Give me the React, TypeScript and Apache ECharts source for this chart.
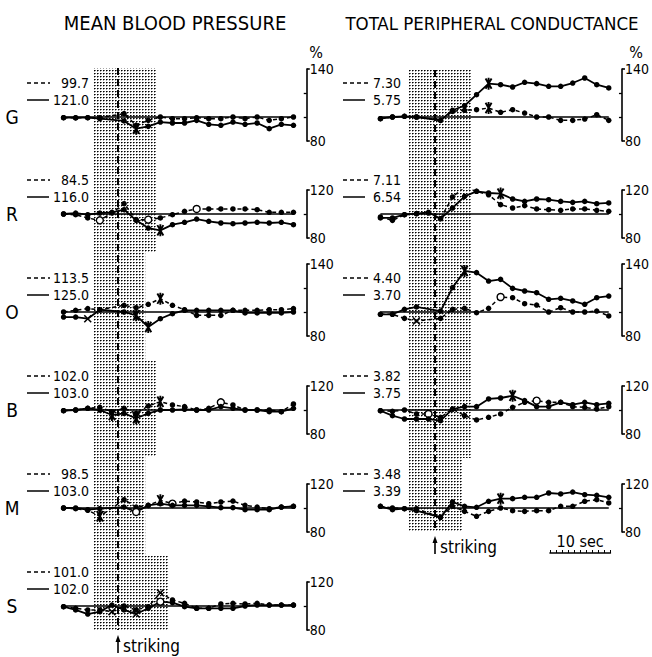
import React, { useEffect, useRef } from 'react';
import * as echarts from 'echarts';

// ---------- time grids (seconds, striking = 0) ----------
const TIMES_A = [-9, -7, -5, -3, 1, 3, 5, 7, 9, 11, 13, 15, 17, 19, 21, 23, 25, 27, 29];
const TIMES_B = [-9, -7, -5, -3, -1, 1, 3, 5, 7, 9, 11, 13, 15, 17, 19, 21, 23, 25, 27, 29];
const BASE_RANGE = [-9, 29];

// ---------- MEAN BLOOD PRESSURE (% of control) ----------
const mbpG_dash = [99.4, 99.2, 99.4, 99.4, 102.8, 93.1, 97.2, 100, 98.6, 98.6, 99.4, 98.6, 98.6, 100, 98.6, 100, 97.2, 98.6, 100];
const mbpG_solid = [99.4, 99.4, 99.4, 98.6, 96.7, 90.3, 92.2, 95.8, 95.0, 95.0, 97.2, 93.9, 93.1, 95.8, 93.9, 95.0, 90.3, 93.9, 93.1];
const mbpG_dashMarks: [number, string][] = [];
const mbpG_solidMarks: [number, string][] = [[3, '*']];

const mbpR_dash = [100, 99.4, 96.7, 94.7, 100.8, 108.6, 95.3, 95.3, 96.7, 99.4, 102.2, 104.2, 104.2, 104.2, 104.2, 104.2, 103.6, 101.4, 101.4, 101.4];
const mbpR_solid = [100, 100.8, 99.4, 100.8, 101.4, 103.6, 94.7, 88.3, 86.4, 91.1, 93.1, 95.8, 93.9, 92.5, 91.9, 92.5, 93.1, 92.5, 93.1, 91.1];
const mbpR_dashMarks: [number, string][] = [[-3, 'o'], [5, 'o'], [13, 'o']];
const mbpR_solidMarks: [number, string][] = [[7, '*']];

const mbpO_dash = [100, 101.4, 102.8, 101.9, 105.6, 103.6, 106.4, 111.1, 105.6, 101.9, 97.2, 97.2, 97.2, 101.4, 101.4, 101.4, 101.9, 101.9, 102.8];
const mbpO_solid = [95.8, 95.8, 94.4, 101.9, 100, 97.2, 87.5, 94.4, 98.6, 101.4, 101.4, 101.4, 101.4, 101.4, 99.2, 99.2, 99.2, 99.2, 100];
const mbpO_dashMarks: [number, string][] = [[7, '*']];
const mbpO_solidMarks: [number, string][] = [[-5, 'x'], [3, '*'], [5, '*']];

const mbpB_dash = [99.4, 100, 101.4, 102.2, 98.6, 101.4, 97.2, 103.3, 106.9, 104.2, 102.8, 100, 101.4, 106.4, 104.2, 100, 100, 100, 98.6, 105];
const mbpB_solid = [99.4, 100, 101.4, 100, 95.8, 97.2, 93.1, 97.2, 100, 100, 100.6, 100, 100, 102.8, 101.4, 100, 100, 98.6, 98.6, 101.4];
const mbpB_dashMarks: [number, string][] = [[7, '*'], [17, 'o']];
const mbpB_solidMarks: [number, string][] = [[-1, '*'], [3, '*']];

const mbpM_dash = [100, 99.4, 98.1, 93.1, 106.9, 100.8, 102.2, 106.4, 103.6, 105.8, 105, 103.6, 105, 105.8, 102.2, 100.8, 99.4, 100.8, 101.4];
const mbpM_solid = [100, 100, 98.6, 99.4, 100.8, 96.7, 102.2, 103.6, 102.2, 102.2, 102.2, 101.4, 100.3, 100.3, 98.6, 98.6, 98.6, 100.8, 101.4];
const mbpM_dashMarks: [number, string][] = [[-3, '*'], [7, '*'], [9, 'o']];
const mbpM_solidMarks: [number, string][] = [[3, 'o']];

const mbpS_dash = [99.4, 98.1, 96.7, 96.7, 95.3, 100, 96.7, 99.4, 111, 105, 102.2, 98.1, 98.1, 101.7, 102.2, 101.7, 102.2, 100.8, 100.8, 100.8];
const mbpS_solid = [99.4, 96.7, 93.3, 95.3, 100.8, 96.7, 93.3, 98.1, 103.6, 102.8, 99.4, 98.1, 98.1, 98.1, 98.1, 100, 100.8, 100.8, 100.8, 100.8];
const mbpS_dashMarks: [number, string][] = [[-1, 'x'], [7, 'x']];
const mbpS_solidMarks: [number, string][] = [[3, 'x'], [7, 'o']];

const mbpLetters = ['G', 'R', 'O', 'B', 'M', 'S'];
const mbpDashRef = ['99.7', '84.5', '113.5', '102.0', '98.5', '101.0'];
const mbpSolidRef = ['121.0', '116.0', '125.0', '103.0', '103.0', '102.0'];
const mbpTop = [140, 120, 140, 120, 120, 120];

// ---------- TOTAL PERIPHERAL CONDUCTANCE (% of control) ----------
const tpcG_dash = [98.6, 100, 100.6, 100, 97.2, 104.7, 105.6, 106.1, 107.5, 103.9, 106.1, 103.3, 100, 100, 97.2, 97.2, 98.3, 101.9, 97.2];
const tpcG_solid = [98.6, 100, 100.6, 100, 97.2, 105.6, 109.4, 118.6, 127.8, 126.9, 125, 128.9, 127.8, 125.6, 125.6, 128.3, 132.5, 126.9, 124.2];
const tpcG_dashMarks: [number, string][] = [[9, '*']];
const tpcG_solidMarks: [number, string][] = [[9, '*']];

const tpcR_dash = [97.5, 94.7, 99.4, 100.3, 100.8, 96.1, 114.2, 122.5, 118.9, 116, 107.8, 105, 107, 104.2, 103.6, 103.1, 104.2, 104.2, 103.1, 102.2];
const tpcR_solid = [96.7, 96.7, 99.4, 100.3, 101.4, 96.1, 105, 114.7, 118.9, 117.5, 117, 112.5, 110.5, 112.5, 111.9, 110.5, 109.7, 110.5, 108.6, 109.2];
const tpcR_dashMarks: [number, string][] = [[5, '*']];
const tpcR_solidMarks: [number, string][] = [[11, '*']];

const tpcO_dash = [98.1, 98.1, 94.7, 92.5, 94.7, 102.2, 103.1, 99.4, 103.1, 112.5, 111.9, 106.9, 105.8, 100, 103.6, 100, 100, 100.8, 96.7];
const tpcO_solid = [98.1, 98.1, 102.2, 104.2, 100.8, 120.3, 134.2, 132.8, 125.8, 127.2, 119.7, 117.5, 116.1, 110.6, 111.4, 109.2, 106.4, 111.9, 113.3];
const tpcO_dashMarks: [number, string][] = [[-3, 'x'], [11, 'o']];
const tpcO_solidMarks: [number, string][] = [[5, '*']];

const tpcB_dash = [99.4, 98.9, 100, 96.7, 96.7, 93.9, 100.8, 95.3, 91.7, 93.9, 96.7, 102.2, 106.4, 107.8, 106.4, 106.4, 102.8, 102.2, 100.8, 102.8];
const tpcB_solid = [99.4, 95.3, 92.5, 92.5, 92.5, 91.1, 100.8, 102.8, 102.8, 109.2, 110, 111.9, 107.8, 102.8, 102.8, 106.4, 104.4, 106.4, 104.4, 105.6];
const tpcB_dashMarks: [number, string][] = [[-1, 'o'], [17, 'o']];
const tpcB_solidMarks: [number, string][] = [[13, '*']];

const tpcM_dash = [101.4, 100, 99.4, 99.4, 92.2, 101.4, 97.2, 93.1, 97.2, 100, 97.8, 97.2, 97.8, 97.8, 101.4, 101.4, 105.6, 106.9, 104.2];
const tpcM_solid = [101.4, 98.6, 99.4, 97.8, 92.2, 105, 101.4, 100.6, 105.6, 107.8, 107.8, 108.9, 108.9, 112.5, 111.7, 113.3, 111.1, 110.6, 108.9];
const tpcM_dashMarks: [number, string][] = [];
const tpcM_solidMarks: [number, string][] = [[11, '*']];

const tpcDashRef = ['7.30', '7.11', '4.40', '3.82', '3.48'];
const tpcSolidRef = ['5.75', '6.54', '3.70', '3.75', '3.39'];
const tpcTop = [140, 120, 140, 120, 120];

// stippled period (seconds) and vertical extent (page px) for each column
const mbpStipple = [
  [-4.1, 6.3, 68, 252],
  [-4.1, 4.5, 252, 360],
  [-4.1, 6.3, 360, 457],
  [-4.1, 4.5, 457, 555],
  [-4.1, 8.3, 555, 630],
];
const tpcStipple = [
  [-4.3, 6.1, 70, 458],
  [-4.3, 4.5, 458, 532],
];
const SCALE_BAR_SEC = [19, 29];

// ---------- layout ----------
const FONT = "'DejaVu Sans Condensed', 'Liberation Sans Narrow', 'DejaVu Sans', sans-serif";
const PX_PER_S = 6.05;
const X_MIN = -12;
const X_MAX = 31.2;
const COL_LEFT = [45.4, 362.4];
const BASELINES = [117, 214, 312, 410, 508, 606];
const PX_PER_UNIT = 1.2;
const GRID_W = (X_MAX - X_MIN) * PX_PER_S;

const STAR = 'path://M-0.8,-5L-0.8,5L0.8,5L0.8,-5Z M1.807,4.73L3.193,3.93L-1.807,-4.73L-3.193,-3.93Z M3.193,-3.93L1.807,-4.73L-3.193,3.93L-1.807,4.73Z';
const CROSS = 'path://M2.95,4.05L4.05,2.95L-2.95,-4.05L-4.05,-2.95Z M4.05,-2.95L2.95,-4.05L-4.05,2.95L-2.95,4.05Z';

function buildItems(times: number[], vals: number[], marks: [number, string][]) {
  return times.map((t, i) => {
    const m = marks.find((mm) => mm[0] === t);
    const item: any = { value: [t, vals[i]] };
    if (m) {
      if (m[1] === '*') {
        item.symbol = STAR;
        item.symbolSize = 12;
      } else if (m[1] === 'o') {
        item.symbol = 'circle';
        item.symbolSize = 7;
        item.itemStyle = { color: '#fff', borderColor: '#000', borderWidth: 1.4 };
      } else if (m[1] === 'x') {
        item.symbol = CROSS;
        item.symbolSize = 8;
      }
    }
    return item;
  });
}

const mbpPanels = [
  { times: TIMES_A, dash: mbpG_dash, solid: mbpG_solid, dm: mbpG_dashMarks, sm: mbpG_solidMarks },
  { times: TIMES_B, dash: mbpR_dash, solid: mbpR_solid, dm: mbpR_dashMarks, sm: mbpR_solidMarks },
  { times: TIMES_A, dash: mbpO_dash, solid: mbpO_solid, dm: mbpO_dashMarks, sm: mbpO_solidMarks },
  { times: TIMES_B, dash: mbpB_dash, solid: mbpB_solid, dm: mbpB_dashMarks, sm: mbpB_solidMarks },
  { times: TIMES_A, dash: mbpM_dash, solid: mbpM_solid, dm: mbpM_dashMarks, sm: mbpM_solidMarks },
  { times: TIMES_B, dash: mbpS_dash, solid: mbpS_solid, dm: mbpS_dashMarks, sm: mbpS_solidMarks },
];
const tpcPanels = [
  { times: TIMES_A, dash: tpcG_dash, solid: tpcG_solid, dm: tpcG_dashMarks, sm: tpcG_solidMarks },
  { times: TIMES_B, dash: tpcR_dash, solid: tpcR_solid, dm: tpcR_dashMarks, sm: tpcR_solidMarks },
  { times: TIMES_A, dash: tpcO_dash, solid: tpcO_solid, dm: tpcO_dashMarks, sm: tpcO_solidMarks },
  { times: TIMES_B, dash: tpcB_dash, solid: tpcB_solid, dm: tpcB_dashMarks, sm: tpcB_solidMarks },
  { times: TIMES_A, dash: tpcM_dash, solid: tpcM_solid, dm: tpcM_dashMarks, sm: tpcM_solidMarks },
];

function buildOption(pattern: any) {
  const grid: any[] = [];
  const xAxis: any[] = [];
  const yAxis: any[] = [];
  const series: any[] = [];
  const graphic: any[] = [];

  const txt = (text: string, x: number, y: number, size: number, align = 'left', extra: any = {}) => ({
    type: 'text',
    x,
    y,
    silent: true,
    style: { text, fill: '#000', fontSize: size, fontFamily: FONT, align, verticalAlign: 'middle', ...extra },
  });

  const addPanel = (col: number, row: number, panel: any, topVal: number) => {
    const k = grid.length;
    const base = BASELINES[row];
    grid.push({
      left: COL_LEFT[col],
      top: base - (topVal - 100) * PX_PER_UNIT,
      width: GRID_W,
      height: (topVal - 80) * PX_PER_UNIT,
    });
    xAxis.push({ gridIndex: k, type: 'value', min: X_MIN, max: X_MAX, show: false, axisLine: { onZero: false } });
    const yMain = yAxis.length;
    yAxis.push({
      gridIndex: k,
      type: 'value',
      position: 'right',
      min: 80,
      max: topVal,
      axisLine: { show: true, onZero: false, lineStyle: { color: '#000', width: 1.6 } },
      axisTick: { show: true, inside: false, length: 3, customValues: [80, topVal], lineStyle: { color: '#000', width: 1.6 } },
      axisLabel: { show: true, customValues: [80, topVal], color: '#000', fontSize: 14, fontFamily: FONT, margin: 3 },
      splitLine: { show: false },
    });
    yAxis.push({
      gridIndex: k,
      type: 'value',
      position: 'right',
      min: 80,
      max: topVal,
      axisLine: { show: false, onZero: false },
      axisTick: { show: true, inside: true, length: 3, customValues: topVal === 140 ? [100, 120] : [100], lineStyle: { color: '#000', width: 1.3 } },
      axisLabel: { show: false },
      splitLine: { show: false },
    });
    series.push({
      type: 'line',
      xAxisIndex: k,
      yAxisIndex: yMain,
      data: [[BASE_RANGE[0], 100], [BASE_RANGE[1], 100]],
      symbol: 'none',
      silent: true,
      lineStyle: { color: '#000', width: 1.3 },
      z: 1,
    });
    series.push({
      type: 'line',
      xAxisIndex: k,
      yAxisIndex: yMain,
      data: buildItems(panel.times, panel.dash, panel.dm),
      symbol: 'circle',
      symbolSize: 5.5,
      symbolKeepAspect: true,
      showAllSymbol: true,
      itemStyle: { color: '#000' },
      lineStyle: { color: '#000', width: 1.5, type: [4, 3] },
      z: 3,
    });
    series.push({
      type: 'line',
      xAxisIndex: k,
      yAxisIndex: yMain,
      data: buildItems(panel.times, panel.solid, panel.sm),
      symbol: 'circle',
      symbolSize: 5.5,
      symbolKeepAspect: true,
      showAllSymbol: true,
      itemStyle: { color: '#000' },
      lineStyle: { color: '#000', width: 1.8 },
      z: 4,
    });
  };

  mbpPanels.forEach((p, i) => addPanel(0, i, p, mbpTop[i]));
  tpcPanels.forEach((p, i) => addPanel(1, i, p, tpcTop[i]));

  // background grids with stipple + striking line
  const addBackground = (col: number, stip: number[][]) => {
    const k = grid.length;
    const yTop = Math.min(...stip.map((s) => s[2]));
    const yBot = Math.max(...stip.map((s) => s[3]));
    grid.push({ left: COL_LEFT[col], top: yTop, width: GRID_W, height: yBot - yTop });
    xAxis.push({ gridIndex: k, type: 'value', min: X_MIN, max: X_MAX, show: false, axisLine: { onZero: false } });
    const yi = yAxis.length;
    yAxis.push({ gridIndex: k, type: 'value', min: yTop, max: yBot, inverse: true, show: false, axisLine: { onZero: false } });
    series.push({
      type: 'line',
      xAxisIndex: k,
      yAxisIndex: yi,
      data: [[0, yTop]],
      symbol: 'none',
      silent: true,
      lineStyle: { opacity: 0 },
      z: 0,
      markArea: {
        silent: true,
        itemStyle: { color: pattern },
        data: stip.map((s) => [{ coord: [s[0], s[2]] }, { coord: [s[1], s[3]] }]),
      },
      markLine: {
        silent: true,
        symbol: ['none', 'none'],
        label: { show: false },
        lineStyle: { color: '#000', width: 2, type: [7, 4] },
        data: [{ xAxis: 0 }],
      },
    });
  };
  addBackground(0, mbpStipple);
  addBackground(1, tpcStipple);

  // 10 sec scale bar
  {
    const k = grid.length;
    grid.push({
      left: COL_LEFT[1] + (SCALE_BAR_SEC[0] - X_MIN) * PX_PER_S,
      top: 552,
      width: (SCALE_BAR_SEC[1] - SCALE_BAR_SEC[0]) * PX_PER_S,
      height: 1,
    });
    xAxis.push({
      gridIndex: k,
      type: 'value',
      min: 0,
      max: SCALE_BAR_SEC[1] - SCALE_BAR_SEC[0],
      interval: 1,
      position: 'bottom',
      axisLine: { show: true, onZero: false, lineStyle: { color: '#000', width: 1.5 } },
      axisTick: { show: true, inside: true, length: 3, lineStyle: { color: '#000', width: 1 } },
      axisLabel: { show: false },
      splitLine: { show: false },
    });
    yAxis.push({ gridIndex: k, type: 'value', show: false, axisLine: { onZero: false } });
  }

  // titles
  graphic.push(txt('MEAN BLOOD PRESSURE', 175, 23, 20, 'center'));
  graphic.push(txt('TOTAL PERIPHERAL CONDUCTANCE', 492, 23, 18.5, 'center'));
  graphic.push(txt('%', 316, 52, 16, 'center'));
  graphic.push(txt('%', 636, 52, 16, 'center'));

  // letters and reference values
  const legend = (col: number, row: number, dRef: string, sRef: string) => {
    const b = BASELINES[row];
    const x0 = col === 0 ? 27 : 343;
    const xr = col === 0 ? 89 : 401;
    const dw = col === 0 ? 23 : 27;
    graphic.push({ type: 'line', silent: true, shape: { x1: x0, y1: b - 34, x2: x0 + dw, y2: b - 34 }, style: { stroke: '#000', lineWidth: 1.5, lineDash: [4, 3] } });
    graphic.push({ type: 'line', silent: true, shape: { x1: x0, y1: b - 17, x2: x0 + 22, y2: b - 17 }, style: { stroke: '#000', lineWidth: 1.5 } });
    graphic.push(txt(dRef, xr, b - 34, 14, 'right'));
    graphic.push(txt(sRef, xr, b - 17, 14, 'right'));
  };
  mbpLetters.forEach((l, i) => {
    graphic.push(txt(l, 12, BASELINES[i], 19, 'center'));
    legend(0, i, mbpDashRef[i], mbpSolidRef[i]);
  });
  tpcDashRef.forEach((d, i) => legend(1, i, d, tpcSolidRef[i]));

  // striking arrows
  const arrow = (col: number, yTop: number) => {
    const x = COL_LEFT[col] + (0 - X_MIN) * PX_PER_S;
    graphic.push({ type: 'line', silent: true, shape: { x1: x, y1: yTop + 4, x2: x, y2: yTop + 17 }, style: { stroke: '#000', lineWidth: 1.6 } });
    graphic.push({ type: 'polygon', silent: true, shape: { points: [[x - 2.5, yTop + 6], [x, yTop - 1], [x + 2.5, yTop + 6]] }, style: { fill: '#000' } });
    graphic.push(txt('striking', x + 5, yTop + 10, 17, 'left'));
  };
  arrow(0, 636);
  arrow(1, 537);

  graphic.push(txt('10 sec', COL_LEFT[1] + ((SCALE_BAR_SEC[0] + SCALE_BAR_SEC[1]) / 2 - X_MIN) * PX_PER_S, 541, 16, 'center'));

  return {
    animation: false,
    backgroundColor: '#fff',
    grid,
    xAxis,
    yAxis,
    series,
    graphic,
  };
}

export default function App() {
  const ref = useRef<HTMLDivElement>(null);
  useEffect(() => {
    if (!ref.current) return;
    const cv = document.createElement('canvas');
    cv.width = 3;
    cv.height = 3;
    const ctx = cv.getContext('2d');
    if (ctx) {
      ctx.fillStyle = '#fff';
      ctx.fillRect(0, 0, 3, 3);
      ctx.fillStyle = '#000';
      ctx.fillRect(1, 1, 1, 1);
      ctx.fillStyle = 'rgba(0,0,0,0.6)';
      ctx.fillRect(2, 1, 1, 1);
      ctx.fillStyle = 'rgba(0,0,0,0.35)';
      ctx.fillRect(1, 2, 1, 1);
    }
    const pattern = { image: cv, repeat: 'repeat', imageWidth: 3, imageHeight: 3 };
    const chart = echarts.init(ref.current, undefined, { renderer: 'svg' });
    chart.setOption(buildOption(pattern) as any);
    return () => chart.dispose();
  }, []);
  return <div ref={ref} style={{ position: 'fixed', left: 0, top: 0, width: 652, height: 657 }} />;
}
